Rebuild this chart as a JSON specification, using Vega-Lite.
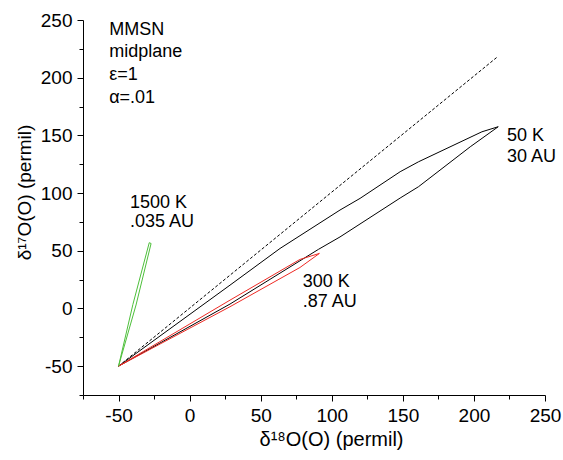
{
  "$schema": "https://vega.github.io/schema/vega-lite/v6.json",
  "width": 462,
  "height": 375,
  "autosize": {"type": "none"},
  "padding": {"left": 83, "top": 20, "right": 18, "bottom": 65},
  "background": "white",
  "config": {
    "view": {"stroke": null},
    "font": "Liberation Sans",
    "axis": {
      "grid": false,
      "domainColor": "black",
      "tickColor": "black",
      "labelColor": "black",
      "titleColor": "black",
      "titleFontWeight": "normal",
      "labelFont": "Liberation Sans",
      "titleFont": "Liberation Sans",
      "labelFontSize": 19,
      "labelFlush": false,
      "labelOverlap": false,
      "tickWidth": 1,
      "domainWidth": 1
    }
  },
  "datasets": {
    "curves": [
      {"series": "50K", "order": 1, "x": -50, "y": -50},
      {"series": "50K", "order": 2, "x": 28.4, "y": 20.2},
      {"series": "50K", "order": 3, "x": 63.6, "y": 52},
      {"series": "50K", "order": 4, "x": 105.8, "y": 85.3},
      {"series": "50K", "order": 5, "x": 119.9, "y": 95.4},
      {"series": "50K", "order": 6, "x": 148.1, "y": 118.5},
      {"series": "50K", "order": 7, "x": 161, "y": 127.1},
      {"series": "50K", "order": 8, "x": 205.6, "y": 153.1},
      {"series": "50K", "order": 9, "x": 217.1, "y": 157.5},
      {"series": "50K", "order": 10, "x": 197.4, "y": 140.1},
      {"series": "50K", "order": 11, "x": 161, "y": 105.5},
      {"series": "50K", "order": 12, "x": 148.1, "y": 95.7},
      {"series": "50K", "order": 13, "x": 105.8, "y": 62},
      {"series": "50K", "order": 14, "x": 90.6, "y": 51.2},
      {"series": "50K", "order": 15, "x": 28.4, "y": 3.8},
      {"series": "50K", "order": 16, "x": -50, "y": -50},
      {"series": "300K", "order": 1, "x": -50, "y": -50},
      {"series": "300K", "order": 2, "x": 28.4, "y": 7.2},
      {"series": "300K", "order": 3, "x": 77.6, "y": 42.5},
      {"series": "300K", "order": 4, "x": 91.3, "y": 47.7},
      {"series": "300K", "order": 5, "x": 77.6, "y": 35.5},
      {"series": "300K", "order": 6, "x": 28.4, "y": 1.5},
      {"series": "300K", "order": 7, "x": -50, "y": -50},
      {"series": "1500K", "order": 1, "x": -50, "y": -50},
      {"series": "1500K", "order": 2, "x": -39.9, "y": 3.5},
      {"series": "1500K", "order": 3, "x": -28.4, "y": 57},
      {"series": "1500K", "order": 4, "x": -27.1, "y": 56.3},
      {"series": "1500K", "order": 5, "x": -37.7, "y": 3},
      {"series": "1500K", "order": 6, "x": -50, "y": -50}
    ],
    "ref": [
      {"x": -50, "y": -50},
      {"x": 216.5, "y": 218}
    ],
    "labels": [
      {"x": -56.6, "y": 237, "label": "MMSN"},
      {"x": -56.6, "y": 217.7, "label": "midplane"},
      {"x": -56.6, "y": 198, "label": "ε=1"},
      {"x": -56.6, "y": 177.8, "label": "α=.01"},
      {"x": -42, "y": 86.7, "label": "1500 K"},
      {"x": -42, "y": 70.8, "label": ".035 AU"},
      {"x": 223.2, "y": 145.3, "label": "50 K"},
      {"x": 223.2, "y": 127.1, "label": "30 AU"},
      {"x": 79.6, "y": 18.75, "label": "300 K"},
      {"x": 79.6, "y": 1.4, "label": ".87 AU"}
    ]
  },
  "layer": [
    {
      "data": {"name": "ref"},
      "mark": {"type": "line", "color": "black", "strokeWidth": 1, "strokeDash": [3, 2]},
      "encoding": {
        "x": {
          "field": "x", "type": "quantitative",
          "scale": {"domain": [-75, 250], "nice": false, "zero": false},
          "axis": {
            "values": [-75, -50, -25, 0, 25, 50, 75, 100, 125, 150, 175, 200, 225, 250],
            "tickCount": 40,
            "labelExpr": "datum.value % 50 == 0 ? '' + datum.value : ''",
            "tickSize": {"condition": {"test": "datum.value % 50 == 0", "value": 6}, "value": 4},
            "labelPadding": 5,
            "title": "δ¹⁸O(O) (permil)",
            "titleFontSize": 20,
            "titleX": 248,
            "titleY": 50,
            "titleBaseline": "alphabetic"
          }
        },
        "y": {
          "field": "y", "type": "quantitative",
          "scale": {"domain": [-75, 250], "nice": false, "zero": false},
          "axis": {
            "values": [-75, -50, -25, 0, 25, 50, 75, 100, 125, 150, 175, 200, 225, 250],
            "tickCount": 40,
            "labelExpr": "datum.value % 50 == 0 ? '' + datum.value : ''",
            "tickSize": {"condition": {"test": "datum.value % 50 == 0", "value": 6}, "value": 4},
            "labelPadding": 5,
            "title": "δ¹⁷O(O) (permil)",
            "titleFontSize": 19,
            "titleX": -53,
            "titleY": 172,
            "titleBaseline": "alphabetic"
          }
        }
      }
    },
    {
      "data": {"name": "curves"},
      "mark": {"type": "line", "strokeWidth": 1},
      "encoding": {
        "x": {"field": "x", "type": "quantitative"},
        "y": {"field": "y", "type": "quantitative"},
        "order": {"field": "order", "type": "quantitative"},
        "color": {
          "field": "series", "type": "nominal",
          "scale": {"domain": ["50K", "300K", "1500K"], "range": ["#000000", "#ee2a24", "#4dbf3a"]},
          "legend": null
        }
      }
    },
    {
      "data": {"name": "labels"},
      "mark": {"type": "text", "align": "left", "baseline": "alphabetic", "fontSize": 18, "font": "Liberation Sans", "color": "black"},
      "encoding": {
        "x": {"field": "x", "type": "quantitative"},
        "y": {"field": "y", "type": "quantitative"},
        "text": {"field": "label"}
      }
    }
  ]
}
